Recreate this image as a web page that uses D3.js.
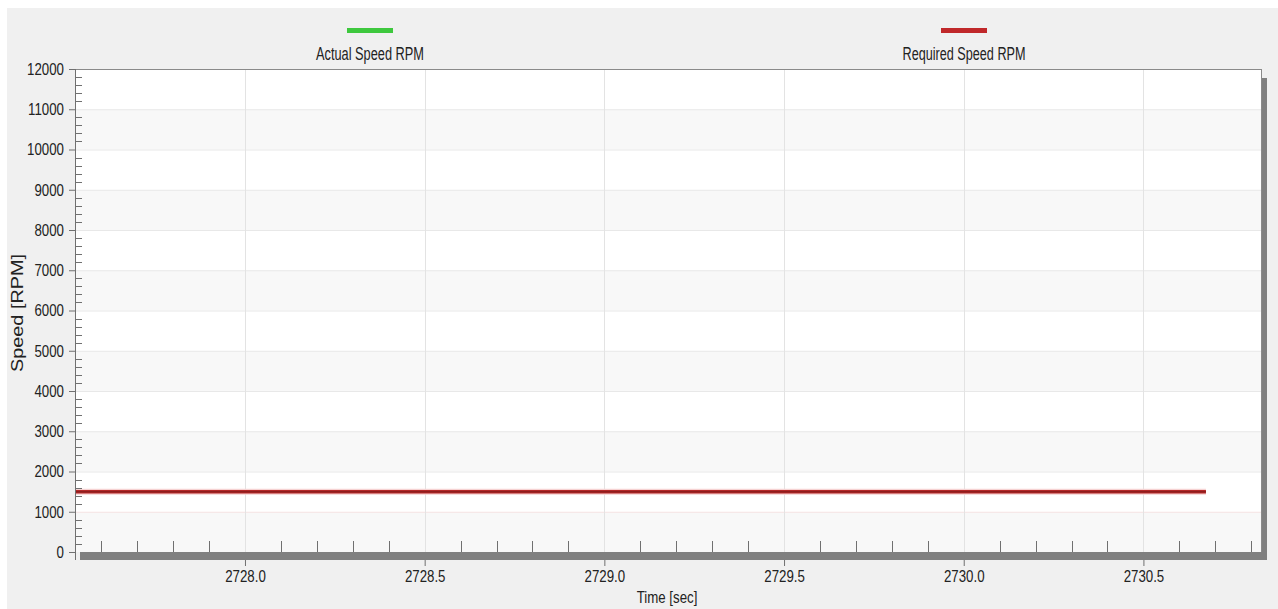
<!DOCTYPE html>
<html><head><meta charset="utf-8">
<script src="https://cdn.jsdelivr.net/npm/d3@7"></script>
<style>
html,body{margin:0;padding:0;background:#fff;}
svg{display:block;}
text{font-family:"Liberation Sans",Arial,sans-serif;fill:#222;}
</style></head>
<body>
<script>
// ---- data ----
const seriesNames = ["Actual Speed RPM", "Required Speed RPM"];
const seriesColors = ["#3ec83e", "#c0282a"];
const requiredTime = [2727.5, 2730.674];
const requiredSpeed = [1500, 1500];
const actualTime = [];
const actualSpeed = [];
const xMajorTicks = [2728.0, 2728.5, 2729.0, 2729.5, 2730.0, 2730.5];
const yMajorTicks = [0,1000,2000,3000,4000,5000,6000,7000,8000,9000,10000,11000,12000];
const xDomain = [2727.527, 2730.83];
const yDomain = [0, 12000];
const xTitle = "Time [sec]";
const yTitle = "Speed [RPM]";

const W = 1278, H = 609;
const L = 75, R = 1262, T = 69, B = 552;
const NARROW = 0.78;
function condense(sel) {
  sel.each(function() {
    const w = this.getComputedTextLength();
    d3.select(this).attr("textLength", w * NARROW).attr("lengthAdjust", "spacingAndGlyphs");
  });
}

const svg = d3.select("body").append("svg").attr("width", W).attr("height", H);
svg.append("rect").attr("x",7).attr("y",8).attr("width",W-7).attr("height",H-8).attr("fill","#f0f0f0");

const x = d3.scaleLinear().domain(xDomain).range([L, R]);
const y = d3.scaleLinear().domain(yDomain).range([B, T]);

// plot background bands
svg.append("rect").attr("x",L).attr("y",T).attr("width",R-L).attr("height",B-T).attr("fill","#ffffff");
const bands = d3.range(0, 12);
svg.append("g").selectAll("rect").data(bands).join("rect")
  .attr("x", L).attr("width", R-L)
  .attr("y", d => y((d+1)*1000)).attr("height", d => y(d*1000) - y((d+1)*1000))
  .attr("fill", d => d % 2 === 0 ? "#f8f8f8" : "#ffffff");

// gridlines
svg.append("g").selectAll("line").data(yMajorTicks.filter(v => v > 0 && v < 12000)).join("line")
  .attr("x1", L).attr("x2", R).attr("y1", d => y(d)+0.5).attr("y2", d => y(d)+0.5)
  .attr("stroke", d => d === 1000 ? "#f5e2e2" : "#e8e8e8").attr("stroke-width", 1);
svg.append("g").selectAll("line").data(xMajorTicks).join("line")
  .attr("x1", d => Math.round(x(d))+0.5).attr("x2", d => Math.round(x(d))+0.5).attr("y1", T).attr("y2", B)
  .attr("stroke", "#e3e3e3").attr("stroke-width", 1);

// top border
svg.append("line").attr("x1", L).attr("x2", R).attr("y1", T+0.5).attr("y2", T+0.5).attr("stroke","#8a8a8a");
// right shadow
svg.append("rect").attr("x", R).attr("y", T+9).attr("width", 5).attr("height", B+8-(T+9)).attr("fill","#808080");
svg.append("line").attr("x1", R-0.5).attr("x2", R-0.5).attr("y1", T).attr("y2", B).attr("stroke","#8a8a8a");

// series lines
const line = d3.line().x(d => x(d[0])).y(d => y(d[1]));
const req = requiredTime.map((t,i) => [t, requiredSpeed[i]]);
const act = actualTime.map((t,i) => [t, actualSpeed[i]]);
svg.append("clipPath").attr("id","clip").append("rect").attr("x",L).attr("y",T).attr("width",R-L).attr("height",B-T);
const gl = svg.append("g").attr("clip-path","url(#clip)");
gl.append("path").datum(act).attr("d", line).attr("fill","none").attr("stroke", seriesColors[0]).attr("stroke-width",3);
gl.append("path").datum(req).attr("d", line).attr("fill","none").attr("stroke","#f6d2d2").attr("stroke-width",6);
gl.append("path").datum(req).attr("d", line).attr("fill","none").attr("stroke","#b52828").attr("stroke-width",3.5);
gl.append("path").datum(req).attr("d", line).attr("fill","none").attr("stroke","#8e1e1e").attr("stroke-width",1.5);

// x axis bar
svg.append("rect").attr("x", L+5).attr("y", B).attr("width", R+5-(L+5)).attr("height", 8).attr("fill","#808080");
// x minor ticks (upward)
const xMinor = d3.range(27276, 27309).map(v => v/10).filter(v => Math.abs(v*2 - Math.round(v*2)) > 1e-6);
svg.append("g").selectAll("line").data(xMinor).join("line")
  .attr("x1", d => Math.round(x(d))+0.5).attr("x2", d => Math.round(x(d))+0.5)
  .attr("y1", B-11).attr("y2", B).attr("stroke","#707070");
// x major ticks (downward)
const xAxis = d3.axisBottom(x).tickValues(xMajorTicks).tickFormat(d3.format(".1f")).tickSize(6).tickPadding(4);
const gx = svg.append("g").attr("transform", `translate(0,${B+8})`).call(xAxis);
gx.select(".domain").remove();
gx.selectAll(".tick line").attr("stroke","#707070");
gx.selectAll(".tick text").attr("font-size", 17).attr("fill","#222")
  .style("font-family", '"Liberation Sans",Arial,sans-serif').call(condense);

// y axis
const yAxis = d3.axisLeft(y).tickValues(yMajorTicks).tickFormat(d3.format("d")).tickSize(6).tickPadding(5);
const gy = svg.append("g").attr("transform", `translate(${L},0)`).call(yAxis);
gy.select(".domain").attr("stroke","#707070").attr("d", `M0.5,${T}V${B+8}`);
gy.selectAll(".tick line").attr("stroke","#707070");
gy.selectAll(".tick text").attr("font-size", 17).attr("fill","#222")
  .style("font-family", '"Liberation Sans",Arial,sans-serif').call(condense);
const yMinor = d3.range(0, 12001, 200).filter(v => v % 1000 !== 0);
svg.append("g").selectAll("line").data(yMinor).join("line")
  .attr("x1", L).attr("x2", L+7).attr("y1", d => Math.round(y(d))+0.5).attr("y2", d => Math.round(y(d))+0.5)
  .attr("stroke","#707070");

// titles
svg.append("text").attr("x", 667).attr("y", 603).attr("text-anchor","middle").attr("font-size",17).text(xTitle).call(condense);
svg.append("text").attr("transform","translate(23,313) rotate(-90)").attr("text-anchor","middle")
  .attr("font-size",17).attr("textLength",118).attr("lengthAdjust","spacingAndGlyphs").text(yTitle);

// legend
const legendX = [370, 964];
const legendW = [108, 123];
const lg = svg.append("g").selectAll("g").data(seriesNames).join("g")
  .attr("transform", (d,i) => `translate(${legendX[i]},0)`);
lg.append("rect").attr("x",-23).attr("y",28).attr("width",46).attr("height",5).attr("fill",(d,i)=>seriesColors[i]);
lg.append("text").attr("x",0).attr("y",60).attr("text-anchor","middle").attr("font-size",17.5)
  .attr("textLength",(d,i)=>legendW[i]).attr("lengthAdjust","spacingAndGlyphs").text(d=>d);
</script>
</body></html>
